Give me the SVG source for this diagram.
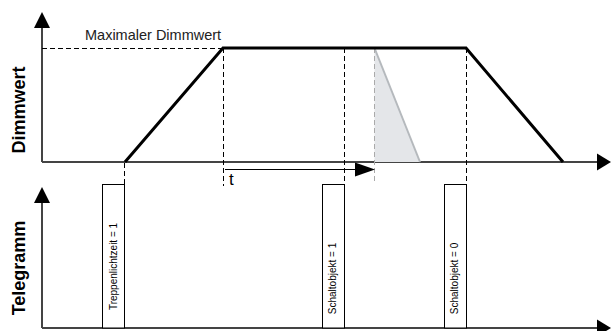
<svg xmlns="http://www.w3.org/2000/svg" width="611" height="331" viewBox="0 0 611 331">
<defs>
<style>
.axis{stroke:#444;stroke-width:2;fill:none}
.curve{stroke:#000;stroke-width:3;fill:none;stroke-linejoin:miter}
.dash{stroke:#000;stroke-width:1;stroke-dasharray:5,3;fill:none}
.gdash{stroke:#aaa;stroke-width:1;stroke-dasharray:5,3;fill:none}
.pulse{fill:#fff;stroke:#000;stroke-width:1}
.lbl{font-family:"Liberation Sans",Arial,sans-serif;font-weight:bold;font-size:18px;fill:#000}
.ptxt{font-family:"Liberation Sans",Arial,sans-serif;font-size:10px;fill:#000}
.txt{font-family:"Liberation Sans",Arial,sans-serif;font-size:14.5px;fill:#222}
</style>
</defs>
<g id="axes">
<line class="axis" x1="42" y1="24" x2="42" y2="162"/>
<polygon points="42,12 34,28 50,28" fill="#000"/>
<line class="axis" x1="42" y1="162" x2="600" y2="162"/>
<polygon points="611,162 597,153.5 597,170.5" fill="#000"/>
<line class="axis" x1="42" y1="199" x2="42" y2="328"/>
<polygon points="42,187 34,203 50,203" fill="#000"/>
<line class="axis" x1="42" y1="328" x2="600" y2="328"/>
<polygon points="611,328 597,319.5 597,336.5" fill="#000"/>
</g>
<g id="labels">
<text class="lbl" transform="translate(25,110) rotate(-90)" text-anchor="middle">Dimmwert</text>
<text class="lbl" transform="translate(25,268) rotate(-90)" text-anchor="middle">Telegramm</text>
<text class="txt" x="85" y="40">Maximaler Dimmwert</text>
</g>
<g id="shaded">
<polygon points="374.5,48 374.5,162 420,162" fill="#e4e6e9"/>
<line x1="374.5" y1="48" x2="420" y2="162" stroke="#b5b9bd" stroke-width="2"/>
</g>
<g id="connectors">
<line class="dash" x1="42" y1="48.5" x2="223" y2="48.5" stroke-dasharray="4,2"/>
<line class="dash" x1="124.5" y1="163" x2="124.5" y2="184"/>
<line class="dash" x1="223.5" y1="48" x2="223.5" y2="186"/>
<line class="dash" x1="344.5" y1="48" x2="344.5" y2="184"/>
<line class="gdash" x1="374.5" y1="48" x2="374.5" y2="184"/>
<line class="dash" x1="466.5" y1="48" x2="466.5" y2="184"/>
<line x1="225" y1="169.5" x2="358" y2="169.5" stroke="#000" stroke-width="1.2"/>
<polygon points="375,169.5 355,162.5 355,176.5" fill="#000"/>
</g>
<g id="dimcurve">
<polyline class="curve" points="125,162 223,48 466,48 563,162"/>
</g>
<text id="t-label" x="229" y="185" font-family="'Liberation Sans',Arial,sans-serif" font-size="17" fill="#000">t</text>
<g id="pulse1">
<rect class="pulse" x="102.5" y="184.5" width="22" height="143.5"/>
<text class="ptxt" transform="translate(117,266.5) rotate(-90)" text-anchor="middle">Treppenlichtzeit = 1</text>
</g>
<g id="pulse2">
<rect class="pulse" x="322.5" y="184.5" width="22" height="143.5"/>
<text class="ptxt" transform="translate(336,278.5) rotate(-90)" text-anchor="middle">Schaltobjekt = 1</text>
</g>
<g id="pulse3">
<rect class="pulse" x="444.5" y="184.5" width="22" height="143.5"/>
<text class="ptxt" transform="translate(458,278.5) rotate(-90)" text-anchor="middle">Schaltobjekt = 0</text>
</g>
</svg>
